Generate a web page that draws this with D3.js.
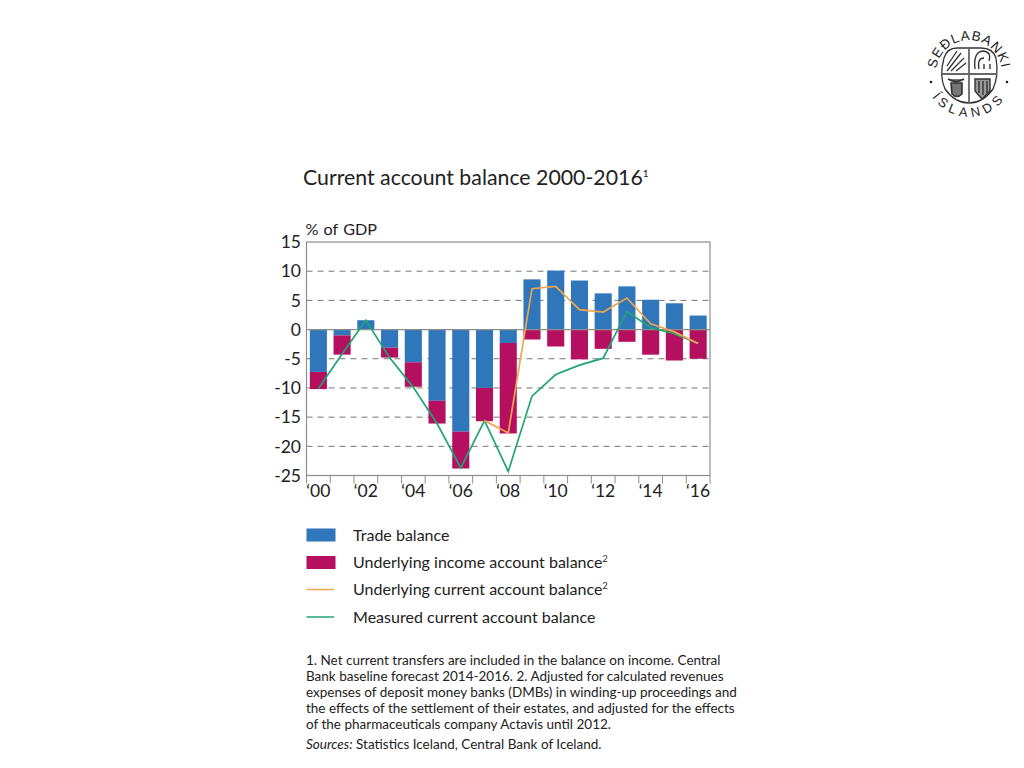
<!DOCTYPE html>
<html><head><meta charset="utf-8">
<script src="https://cdn.jsdelivr.net/npm/d3@7"></script>
<style>
html,body{margin:0;padding:0;background:#fff;overflow:hidden}
text{font-family:"Lato",sans-serif;fill:#222}
</style></head><body><svg id="c" width="1024" height="768"></svg>
<script>
const years=["00","01","02","03","04","05","06","07","08","09","10","11","12","13","14","15","16"];
const xLabels=["‘00","‘02","‘04","‘06","‘08","‘10","‘12","‘14","‘16"];
const yTicks=[15,10,5,0,-5,-10,-15,-20,-25];
const trade=[-7.25,-1.0,1.6,-3.1,-5.6,-12.2,-17.5,-10.0,-2.3,8.6,10.1,8.4,6.2,7.4,5.1,4.5,2.4];
const income=[-2.95,-3.3,0,-1.7,-4.2,-3.9,-6.3,-5.7,-15.5,-1.7,-2.9,-5.1,-3.3,-2.1,-4.3,-5.3,-5.0];
const underlying=[null,null,null,null,null,null,null,-15.6,-17.7,7.0,7.4,3.4,3.0,5.4,1.0,-0.4,-2.4];
const measured=[-10.1,-4.2,1.6,-4.8,-9.9,-16.1,-23.7,-15.6,-24.3,-11.4,-7.7,-6.1,-4.9,3.1,0.3,-0.7,-2.4];
const legendItems=[["Trade balance","","#2f76ba","bar"],["Underlying income account balance","2","#b5105f","bar"],["Underlying current account balance","2","#f0a64e","line"],["Measured current account balance","","#1fa575","line"]];
const notes=["1. Net current transfers are included in the balance on income. Central","Bank baseline forecast 2014-2016. 2. Adjusted for calculated revenues","expenses of deposit money banks (DMBs) in winding-up proceedings and","the effects of the settlement of their estates, and adjusted for the effects","of the pharmaceuticals company Actavis until 2012."];

const svg=d3.select("#c");
const L=306.5,R=710,T=242,B=475.5;
const x=d3.scaleBand().domain(years).range([L,R]).paddingInner(0.28).paddingOuter(0.14);
const edge=d3.scaleLinear().domain([0,17]).range([L,R]);
const y=d3.scaleLinear().domain([-25,15]).range([B,T]);
const cx=d=>x(d)+x.bandwidth()/2;
const GR="#8e8e8e";

// title
const t=svg.append("text").attr("x",303).attr("y",185).attr("font-size",21.3).text("Current account balance 2000-2016");
t.append("tspan").attr("font-size",10).attr("dy",-8).text("1");
svg.append("text").attr("x",305.5).attr("y",235).attr("font-size",16.2).attr("word-spacing",1).text("% of GDP");

// grid
svg.append("g").selectAll("line").data(yTicks.filter(v=>v!==0&&v!==15&&v!==-25)).join("line")
 .attr("x1",L).attr("x2",R).attr("y1",d=>y(d)).attr("y2",d=>y(d))
 .attr("stroke","#777").attr("stroke-width",1).attr("stroke-dasharray","6 5");

// bars
const stack=svg.append("g");
stack.selectAll("rect.t").data(years).join("rect").attr("class","t")
 .attr("x",d=>x(d)).attr("width",x.bandwidth())
 .attr("y",(d,i)=>y(Math.max(0,trade[i]))).attr("height",(d,i)=>Math.abs(y(trade[i])-y(0)))
 .attr("fill",legendItems[0][2]);
stack.selectAll("rect.i").data(years).join("rect").attr("class","i")
 .attr("x",d=>x(d)).attr("width",x.bandwidth())
 .attr("y",(d,i)=>y(Math.min(0,trade[i]))).attr("height",(d,i)=>Math.abs(y(income[i])-y(0)))
 .attr("fill",legendItems[1][2]);

// frame
svg.append("rect").attr("x",L).attr("y",T).attr("width",R-L).attr("height",B-T).attr("fill","none").attr("stroke",GR).attr("stroke-width",1.2);
svg.append("line").attr("x1",L).attr("x2",R).attr("y1",y(0)).attr("y2",y(0)).attr("stroke",GR).attr("stroke-width",1.2);

// lines
const ln=vals=>d3.line().defined(d=>d!=null).x((d,i)=>cx(years[i])).y(d=>y(d))(vals);
svg.append("path").attr("d",ln(measured)).attr("fill","none").attr("stroke",legendItems[3][2]).attr("stroke-width",1.7);
svg.append("path").attr("d",ln(underlying)).attr("fill","none").attr("stroke",legendItems[2][2]).attr("stroke-width",1.7);

// y axis labels
svg.append("g").selectAll("text").data(yTicks).join("text")
 .attr("x",301).attr("y",d=>y(d)+6.3).attr("text-anchor","end").attr("font-size",17.5).text(d=>d);

// x axis
svg.append("g").selectAll("line").data(d3.range(18)).join("line")
 .attr("x1",d=>edge(d)).attr("x2",d=>edge(d)).attr("y1",B).attr("y2",B+8).attr("stroke",GR).attr("stroke-width",1);
svg.append("g").selectAll("text").data(xLabels).join("text")
 .attr("x",(d,i)=>cx(years[i*2])).attr("y",496.5).attr("text-anchor","middle").attr("font-size",17.5).text(d=>d);

// legend
const ly=[535,562.5,589.5,617];
const lg=svg.append("g");
legendItems.forEach((it,i)=>{
 if(it[3]==="bar") lg.append("rect").attr("x",306.5).attr("y",ly[i]-6.5).attr("width",29).attr("height",13).attr("fill",it[2]);
 else lg.append("line").attr("x1",306.5).attr("x2",334).attr("y1",ly[i]).attr("y2",ly[i]).attr("stroke",it[2]).attr("stroke-width",1.5);
 const tx=lg.append("text").attr("x",353).attr("y",ly[i]+5.5).attr("font-size",16.05).text(it[0]);
 if(it[1]) tx.append("tspan").attr("font-size",9).attr("dy",-6).text(it[1]);
});

// notes
const ny=[665,681,697,713,729];
svg.append("g").selectAll("text").data(notes).join("text")
 .attr("x",306).attr("y",(d,i)=>ny[i]).attr("font-size",13.5).text(d=>d);
const src=svg.append("text").attr("x",306).attr("y",749).attr("font-size",13.5);
src.append("tspan").attr("font-style","italic").text("Sources:");
src.append("tspan").text(" Statistics Iceland, Central Bank of Iceland.");

// logo
const lgo=svg.append("g").attr("transform","translate(969,73)");
const defs=svg.append("defs");
defs.append("path").attr("id","arcTop").attr("d","M-28.6,16.5 A33,33 0 1 1 28.6,16.5");
defs.append("path").attr("id","arcBot").attr("d","M-43.3,7.6 A44,44 0 0 0 43.3,7.6");
lgo.append("text").attr("font-size",13.5).attr("letter-spacing",1).style("font-family","Liberation Sans")
 .append("textPath").attr("href","#arcTop").attr("startOffset","50%").attr("text-anchor","middle").text("SEÐLABANKI");
lgo.append("text").attr("font-size",13).attr("letter-spacing",4.5).style("font-family","Liberation Sans")
 .append("textPath").attr("href","#arcBot").attr("startOffset","50%").attr("text-anchor","middle").text("ÍSLANDS");
lgo.append("path").attr("d","M-25,-15 Q-22,-25 -12,-25 L12,-25 Q24,-25 27,-15 Q30,3 24,16 Q14,30 0,30 Q-14,30 -24,16 Q-30,3 -25,-15 Z")
 .attr("fill","none").attr("stroke","#333").attr("stroke-width",1.3);
lgo.append("path").attr("d","M0,-25 V30 M-27,1 H28").attr("stroke","#666").attr("stroke-width",1.8).attr("fill","none");
lgo.append("path").attr("d","M-22,-2 L-8,-20 M-22,-7 L-12,-22 M-18,-2 L-5,-15 M-13,-2 L-3,-10").attr("stroke","#333").attr("stroke-width",1.3).attr("fill","none");
lgo.append("path").attr("d","M6,-4 Q4,-22 15,-22 Q23,-20 20,-12 M10,-4 Q8,-15 15,-15 M15,-4 V-9 M21,-4 V-9").attr("stroke","#333").attr("stroke-width",1.4).attr("fill","none");
lgo.append("path").attr("d","M-21,6 Q-13,11 -5,6 M-18,10 H-7 V21 Q-12,26 -17,21 Z").attr("stroke","#333").attr("stroke-width",1.6).attr("fill","#777");
lgo.append("path").attr("d","M6,6 H21 V18 L13,26 L6,18 Z M10,8 V20 M14,8 V22 M18,8 V20").attr("stroke","#333").attr("stroke-width",1.4).attr("fill","#999");
lgo.selectAll("circle").data([-1,1]).join("circle").attr("cx",d=>d*38).attr("cy",9).attr("r",1.3).attr("fill","#222");
</script></body></html>
